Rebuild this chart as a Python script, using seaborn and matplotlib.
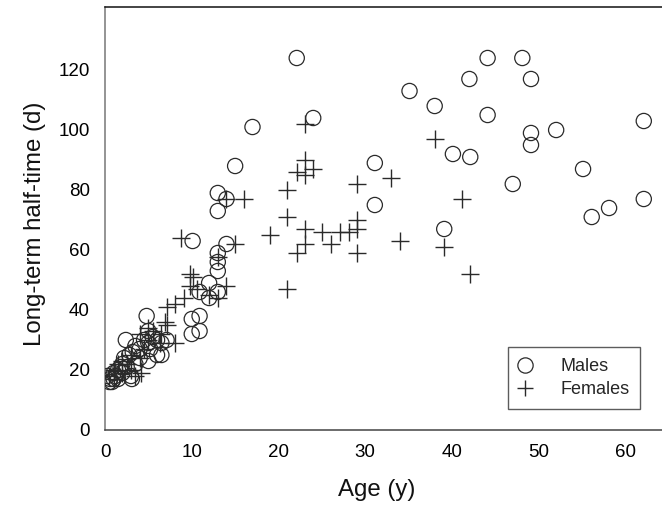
import numpy as np
import pandas as pd
import matplotlib
matplotlib.use("Agg")
import matplotlib.pyplot as plt
from matplotlib.lines import Line2D
import seaborn as sns

# ---- data ----
male_age = [0.3, 0.5, 0.6, 0.8, 1.0, 1.0, 1.2, 1.5, 1.5, 1.8, 2.0, 2.0, 2.2, 2.4,
            2.5, 2.8, 3.0, 3.1, 3.2, 3.5, 3.5, 4.0, 4.0, 4.5, 4.8, 5.0, 5.0, 5.0,
            5.2, 5.5, 6.0, 6.0, 6.5, 6.5, 7.1,
            10.0, 10.0, 10.9, 10.9, 10.1, 10.9, 12.0, 12.0, 13.0, 13.0, 13.0,
            13.0, 13.0, 13.0, 14.0, 14.0, 15.0, 17.0,
            22.1, 24.0, 31.1, 31.1, 35.1, 38.0, 39.1, 40.1, 42.1, 42.0, 44.1,
            44.1, 47.0, 48.1, 49.1, 49.1, 49.1, 52.0, 55.1, 56.1, 58.1, 62.1, 62.1]
male_t = [18, 16, 17, 16, 17, 19, 18, 20, 17, 21, 22, 19, 24, 30,
          21, 25, 18, 17, 26, 22, 28, 24, 27, 30, 38, 33, 29, 23,
          27, 31, 30, 25, 29, 25, 30,
          37, 32, 38, 33, 63, 46, 49, 44, 46, 53, 56, 59, 73, 79, 77, 62, 88, 101,
          124, 104, 89, 75, 113, 108, 67, 92, 91, 117, 124,
          105, 82, 124, 117, 99, 95, 100, 87, 71, 74, 103, 77]

female_age = [0.5, 1.0, 1.0, 1.5, 2.0, 2.0, 2.5, 3.0, 3.0, 3.5, 4.0, 4.2, 4.0,
              4.5, 5.0, 5.0, 5.5, 6.3, 6.5, 6.9, 7.1, 7.2, 8.1, 8.1, 8.8, 9.1,
              9.8, 10.2, 9.8, 10.6, 12.0, 13.0, 13.0, 14.0, 14.0, 15.0, 16.0,
              19.0, 21.0, 21.0, 21.0, 22.1, 22.1, 23.0, 23.0, 23.0, 24.0, 23.0,
              23.0, 25.0, 26.0, 27.1, 28.1, 29.0, 29.0, 29.0, 29.0, 33.0, 34.0,
              38.0, 39.1, 41.1, 42.1]
female_t = [18, 20, 17, 22, 23, 19, 22, 25, 20, 18, 24, 19, 32,
            27, 30, 34, 33, 29, 32, 36, 35, 41, 42, 29, 64, 44,
            52, 51, 48, 47, 45, 57.6, 44, 48, 77, 62, 77,
            65, 80, 71, 47, 86, 59, 102, 90, 85, 87, 67,
            62, 66, 62, 66, 66, 82, 70, 67, 59, 84, 63,
            97, 61, 77, 52]

x_ticks = [0, 10, 20, 30, 40, 50, 60]
y_ticks = [0, 20, 40, 60, 80, 100, 120]
x_label = "Age (y)"
y_label = "Long-term half-time (d)"
legend_labels = ["Males", "Females"]

males = pd.DataFrame({"age": male_age, "t": male_t})
females = pd.DataFrame({"age": female_age, "t": female_t})

# ---- style ----
sns.set_theme(style="white")
plt.rcParams["font.family"] = ["Liberation Sans", "DejaVu Sans"]

fig = plt.figure(figsize=(6.62, 5.08), dpi=100)
ax = fig.add_axes([105 / 662, 78 / 508, 557 / 662, 423 / 508])

edge = "#2a2a2a"
sns.scatterplot(data=males, x="age", y="t", ax=ax, marker="o", s=120,
                facecolor="none", edgecolor=edge, linewidth=0.9, zorder=3)
sns.scatterplot(data=females, x="age", y="t", ax=ax, marker="+", s=150,
                color=edge, linewidth=1.0, zorder=3)

ax.set_xlim(0, 64.2)
ax.set_ylim(0, 141)
ax.set_xticks(x_ticks)
ax.set_yticks(y_ticks)
ax.tick_params(direction="in", length=6, width=1, color="#555555",
               labelsize=13.5, labelcolor="black", pad=11)
ax.tick_params(axis="x", pad=10)

for side in ["left", "bottom", "top"]:
    ax.spines[side].set_visible(True)
    ax.spines[side].set_linewidth(1.1)
ax.spines["left"].set_color("#777777")
ax.spines["bottom"].set_color("#444444")
ax.spines["top"].set_color("#111111")
ax.spines["right"].set_visible(False)

ax.set_xlabel(x_label, fontsize=17.3, color="#111111")
ax.set_ylabel(y_label, fontsize=17.3, color="#111111")
ax.xaxis.set_label_coords((377 - 105) / 557, (430 - 479) / 423)
ax.yaxis.set_label_coords((46 - 105) / 557, (430 - 224) / 423)

handles = [
    Line2D([], [], marker="o", linestyle="none", markersize=11,
           markerfacecolor="none", markeredgecolor=edge, markeredgewidth=0.9),
    Line2D([], [], marker="+", linestyle="none", markersize=12,
           color=edge, markeredgewidth=1.0),
]
leg = ax.legend(handles, legend_labels, loc="lower right",
                bbox_to_anchor=(640 / 662, (508 - 409) / 508),
                bbox_transform=fig.transFigure, fontsize=13,
                frameon=True, fancybox=False, borderpad=0.6,
                labelspacing=0.35, handlelength=0.7, handletextpad=1.6,
                borderaxespad=0)
leg.get_frame().set_edgecolor("#333333")
leg.get_frame().set_linewidth(1.0)

fig.savefig("out.png", dpi=100)
